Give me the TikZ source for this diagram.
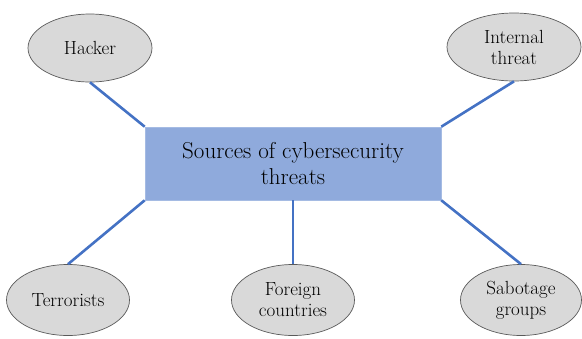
\documentclass[tikz,border=0pt]{standalone}
\usepackage{fontspec}
\usetikzlibrary{shapes.geometric}
\definecolor{linkblue}{RGB}{68,114,196}
\definecolor{boxblue}{RGB}{143,170,220}
\definecolor{ellgray}{RGB}{217,217,217}
\definecolor{ellborder}{RGB}{90,90,90}
\tikzset{
  threat/.style={ellipse, draw=ellborder, fill=ellgray, line width=0.7pt,
    minimum width=124pt, minimum height=68pt, inner sep=0pt, align=center,
    font=\rmfamily\fontsize{19}{21}\selectfont},
  centerbox/.style={rectangle, fill=boxblue, draw=boxblue!80!white, line width=0.6pt,
    minimum width=296pt, minimum height=73pt, inner sep=0pt, align=center,
    font=\rmfamily\fontsize{23}{26}\selectfont},
  link/.style={draw=linkblue, line width=2.6pt}
}
\begin{document}
\begin{tikzpicture}[x=1pt,y=-1pt]
\useasboundingbox (0,0) rectangle (582,338);
\node[centerbox] (src) at (293,163.5) {Sources of cybersecurity\\threats};
\node[threat] (hacker) at (90,48) {Hacker};
\node[threat, minimum width=134pt] (internal) at (514,47) {Internal\\threat};
\node[threat, minimum width=123pt, minimum height=71pt] (terr) at (68,300) {Terrorists};
\node[threat, minimum width=123pt, minimum height=71pt] (foreign) at (293,300) {Foreign\\countries};
\node[threat, minimum width=121pt, minimum height=71pt] (sab) at (521,300) {Sabotage\\groups};
\draw[link] (hacker.south) -- (src.north west);
\draw[link] (internal.south) -- (src.north east);
\draw[link] (terr.north) -- (src.south west);
\draw[link] (src.south) -- (foreign.north);
\draw[link] (sab.north) -- (src.south east);
\end{tikzpicture}
\end{document}
